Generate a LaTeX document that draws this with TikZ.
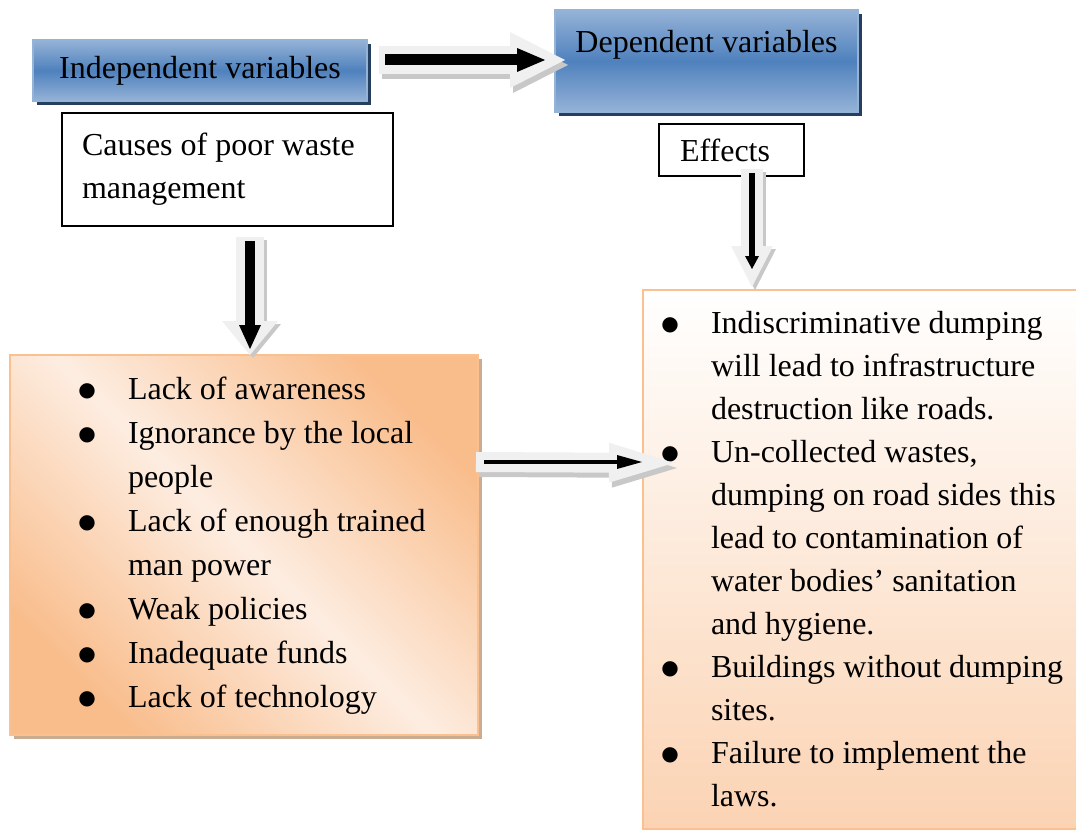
\documentclass[tikz,border=0pt]{standalone}
\usepackage{fontspec}
\setmainfont{Liberation Serif}
\newfontfamily\bulfont{DejaVu Sans}
\usetikzlibrary{positioning,shadows,arrows.meta,calc}
\definecolor{bluemid}{HTML}{4F81BD}
\definecolor{bluelt}{HTML}{95B3D7}
\definecolor{bluedk}{HTML}{243F60}
\definecolor{orgdk}{HTML}{F9BD8C}
\definecolor{orglt}{HTML}{FDEDE1}
\definecolor{orgbd}{HTML}{FAC090}
\definecolor{orgbot}{HTML}{FBD3B3}
\definecolor{orgsh}{HTML}{C9AC92}
\definecolor{arrgray}{HTML}{F0F0F0}
\definecolor{arrsh}{HTML}{C8C8C8}
\newcommand{\bul}{\par\hangindent=41pt\hangafter=1\noindent\makebox[41pt][l]{\makebox[0pt]{\raisebox{3pt}{\bulfont\fontsize{20}{20}\selectfont ●}}}}

\begin{document}
\begin{tikzpicture}[x=1pt,y=-1pt,
  every node/.style={font=\fontsize{32}{43}\selectfont},
  bbox/.style={draw=bluelt,line width=2pt,top color=bluelt,bottom color=bluelt,middle color=bluemid,
    drop shadow={shadow xshift=4pt,shadow yshift=-4pt,fill=bluedk,opacity=1}},
  wbox/.style={draw=black,line width=1.5pt,fill=white,align=flush left},
  bullets/.style={text width=#1,inner xsep=0pt,align=flush left,draw=orgbd,line width=2pt},
  gray arrow/.style={draw=arrgray,line width=#1},
  shadow arrow/.style={draw=arrsh,line width=#1},
  black arrow/.style={draw=black,line width=#1}]
  \useasboundingbox (0,0) rectangle (1076,832);

  \node[bbox,minimum width=334pt,minimum height=61pt] (indep) at (200,70.5) {Independent variables};
  \node[bbox,minimum width=303pt,minimum height=102pt] (dep) at (706.5,61) {};
  \node[anchor=north,inner sep=0pt] (deptext) at ([yshift=-21pt]dep.north) {Dependent variables};

  \node[wbox,minimum width=331pt,minimum height=113pt,text width=291pt] (causes) at (227.5,169.5) {Causes of poor waste\newline management};
  \node[wbox,minimum width=145pt,minimum height=52pt,text width=103pt] (effects) at (731.5,150) {Effects};

  \node[bullets=468pt,minimum height=380pt,top color=orgdk,bottom color=orgdk,middle color=orglt,shading angle=-45,
    drop shadow={shadow xshift=4pt,shadow yshift=-4pt,fill=orgsh,opacity=1},
    font=\fontsize{32}{44}\selectfont] (causelist) at (244,545)
    {\setlength\leftskip{77pt}\par\vspace{-20pt}%
     \bul Lack of awareness
     \bul Ignorance by the local\newline people
     \bul Lack of enough trained\newline man power
     \bul Weak policies
     \bul Inadequate funds
     \bul Lack of technology\par};

  \node[bullets=437pt,minimum height=539pt,top color=white,bottom color=orgbot,
    font=\fontsize{32}{43}\selectfont] (effectlist) at (861.5,559.5)
    {\setlength\leftskip{27pt}\par\vspace{-21pt}%
     \bul Indiscriminative dumping\newline will lead to infrastructure\newline destruction like roads.
     \bul Un-collected wastes,\newline dumping on road sides this\newline lead to contamination of\newline water bodies' sanitation\newline and hygiene.
     \bul Buildings without dumping\newline sites.
     \bul Failure to implement the\newline laws.\par};

  \draw[shadow arrow=28pt,-{Triangle[width=56pt,length=55pt,line width=0pt]}] ([xshift=14pt,yshift=5.5pt]indep.east) -- ([xshift=14pt,yshift=-4pt]dep.west);
  \draw[gray arrow=28pt,-{Triangle[width=56pt,length=55pt,line width=0pt]}] ([xshift=11pt,yshift=10.5pt]indep.east) -- ([xshift=11pt,yshift=1pt]dep.west);
  \draw[black arrow=11pt,-{Triangle[width=24pt,length=28pt,line width=0pt]}] ([xshift=17pt,yshift=10.5pt]indep.east) -- ([xshift=-9pt,yshift=1pt]dep.west);

  \draw[shadow arrow=28pt,-{Triangle[width=56pt,length=34pt,line width=0pt]}] ([xshift=25.5pt,yshift=-13pt]causes.south) -- ([xshift=9pt,yshift=-4pt]causelist.north);
  \draw[gray arrow=28pt,-{Triangle[width=56pt,length=34pt,line width=0pt]}] ([xshift=22.5pt,yshift=-10pt]causes.south) -- ([xshift=6pt,yshift=-1pt]causelist.north);
  \draw[black arrow=10pt,-{Triangle[width=22pt,length=24pt,line width=0pt]}] ([xshift=22.5pt,yshift=-14pt]causes.south) -- ([xshift=6pt,yshift=5pt]causelist.north);

  \draw[shadow arrow=22pt,-{Triangle[width=42pt,length=41pt,line width=0pt]}] ([xshift=23.5pt,yshift=5pt]effects.south) -- ([xshift=-106.5pt,yshift=-1pt]effectlist.north);
  \draw[gray arrow=22pt,-{Triangle[width=42pt,length=41pt,line width=0pt]}] ([xshift=20.5pt,yshift=8pt]effects.south) -- ([xshift=-109.5pt,yshift=2pt]effectlist.north);
  \draw[black arrow=6pt,-{Triangle[width=14pt,length=13pt,line width=0pt]}] ([xshift=20.5pt,yshift=4pt]effects.south) -- ([xshift=-109.5pt,yshift=20pt]effectlist.north);

  \draw[shadow arrow=20pt,-{Triangle[width=40pt,length=65pt,line width=0pt]}] ([xshift=0pt,yshift=78pt]causelist.east) -- ([xshift=35pt,yshift=91.5pt]effectlist.west);
  \draw[gray arrow=20pt,-{Triangle[width=40pt,length=65pt,line width=0pt]}] ([xshift=-3pt,yshift=83pt]causelist.east) -- ([xshift=32pt,yshift=96.5pt]effectlist.west);
  \draw[black arrow=3.5pt,-{Triangle[width=14pt,length=25pt,line width=0pt]}] ([xshift=5pt,yshift=83pt]causelist.east) -- ([xshift=0pt,yshift=97.5pt]effectlist.west);
\end{tikzpicture}
\end{document}
